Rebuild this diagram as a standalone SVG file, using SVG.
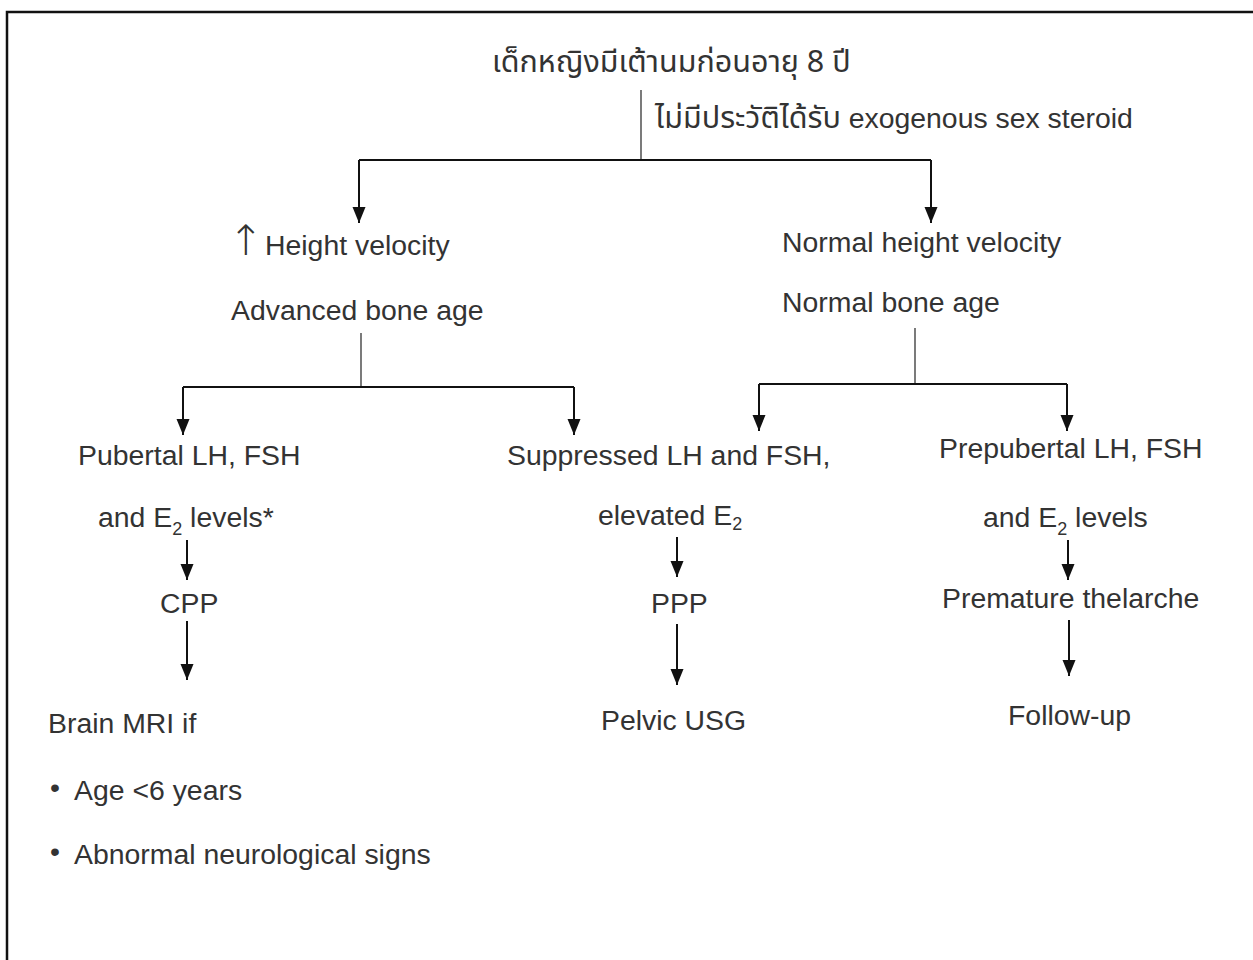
<svg xmlns="http://www.w3.org/2000/svg" width="1253" height="960" viewBox="0 0 1253 960">
<style>
text{font-family:"Liberation Sans","Noto Sans",Arial,sans-serif;font-size:28.4px;fill:#333}
.th{font-family:"Noto Sans Thai","Noto Sans","Liberation Sans",sans-serif;font-size:30.5px}
.sub{font-size:18px}
.ln{stroke:#111;stroke-width:2;fill:none}
.thin{stroke:#333;stroke-width:1.3;fill:none}
</style>
<defs>
<marker id="ah" markerUnits="userSpaceOnUse" markerWidth="18" markerHeight="14" refX="16" refY="7" orient="auto">
<path d="M0,0.5 L16,7 L0,13.5 z" fill="#111"/>
</marker>
</defs>
<rect width="1253" height="960" fill="#fff"/>
<path d="M7,960 V12 H1253" stroke="#111" stroke-width="2.5" fill="none"/>

<g id="connectors">
<line class="thin" x1="641" y1="90" x2="641" y2="160"/>
<path class="ln" d="M359,160 H931"/>
<line class="ln" x1="359" y1="160" x2="359" y2="223" marker-end="url(#ah)"/>
<line class="ln" x1="931" y1="160" x2="931" y2="223" marker-end="url(#ah)"/>
<line class="thin" x1="361" y1="333" x2="361" y2="387"/>
<path class="ln" d="M183,387 H574"/>
<line class="ln" x1="183" y1="387" x2="183" y2="435" marker-end="url(#ah)"/>
<line class="ln" x1="574" y1="387" x2="574" y2="435" marker-end="url(#ah)"/>
<line class="thin" x1="915" y1="328" x2="915" y2="384"/>
<path class="ln" d="M759,384 H1067"/>
<line class="ln" x1="759" y1="384" x2="759" y2="431" marker-end="url(#ah)"/>
<line class="ln" x1="1067" y1="384" x2="1067" y2="431" marker-end="url(#ah)"/>
<line class="ln" x1="187" y1="540" x2="187" y2="580" marker-end="url(#ah)"/>
<line class="ln" x1="187" y1="621" x2="187" y2="680" marker-end="url(#ah)"/>
<line class="ln" x1="677" y1="537" x2="677" y2="577" marker-end="url(#ah)"/>
<line class="ln" x1="677" y1="624" x2="677" y2="685" marker-end="url(#ah)"/>
<line class="ln" x1="1068" y1="540" x2="1068" y2="580" marker-end="url(#ah)"/>
<line class="ln" x1="1069" y1="620" x2="1069" y2="676" marker-end="url(#ah)"/>
</g>

<g id="title"><text class="th" x="492" y="72">เด็กหญิงมีเต้านมก่อนอายุ 8 ปี</text></g>
<g id="exclusion"><text x="655" y="128"><tspan class="th">ไม่มีประวัติได้รับ</tspan> exogenous sex steroid</text></g>

<g id="left-branch">
<text x="228" y="255" style="font-family:'DejaVu Sans',sans-serif;font-size:42px;font-weight:300">↑</text>
<text x="265" y="255">Height velocity</text>
<text x="231" y="320">Advanced bone age</text>
</g>
<g id="right-branch">
<text x="782" y="252">Normal height velocity</text>
<text x="782" y="312">Normal bone age</text>
</g>

<g id="pubertal">
<text x="78" y="465">Pubertal LH, FSH</text>
<text x="98" y="527">and E<tspan class="sub" dy="8">2</tspan><tspan dy="-8"> levels*</tspan></text>
</g>
<g id="cpp"><text x="160" y="613">CPP</text></g>
<g id="mri">
<text x="48" y="733">Brain MRI if</text>
<text x="50" y="797" font-size="12">•</text>
<text x="74" y="800">Age &lt;6 years</text>
<text x="50" y="861" font-size="12">•</text>
<text x="74" y="864">Abnormal neurological signs</text>
</g>

<g id="suppressed">
<text x="507" y="465">Suppressed LH and FSH,</text>
<text x="598" y="525">elevated E<tspan class="sub" dy="5">2</tspan></text>
</g>
<g id="ppp"><text x="651" y="613">PPP</text></g>
<g id="pelvic"><text x="601" y="730">Pelvic USG</text></g>

<g id="prepubertal">
<text x="939" y="458">Prepubertal LH, FSH</text>
<text x="983" y="527">and E<tspan class="sub" dy="8">2</tspan><tspan dy="-8"> levels</tspan></text>
</g>
<g id="thelarche"><text x="942" y="608">Premature thelarche</text></g>
<g id="followup"><text x="1008" y="725">Follow-up</text></g>
</svg>
